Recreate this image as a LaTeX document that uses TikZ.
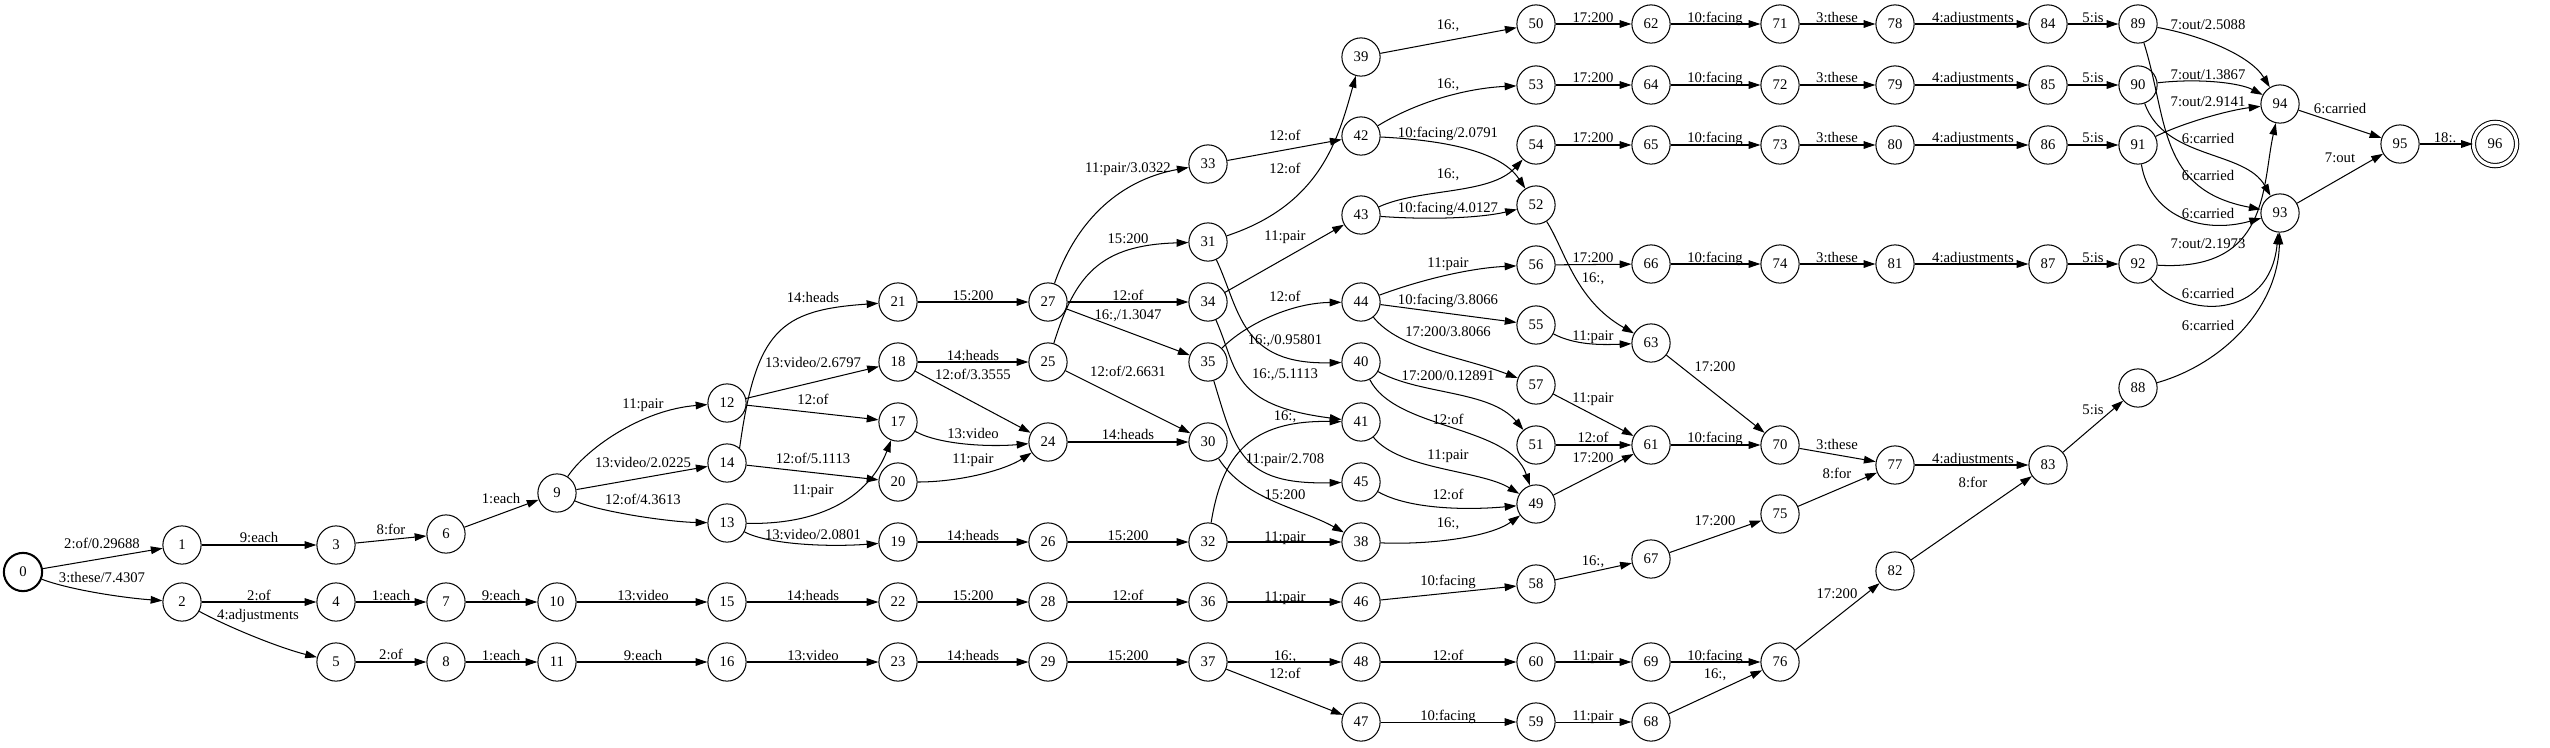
\documentclass[tikz,border=0pt]{standalone}
\usepackage{fontspec}
\setmainfont{Liberation Serif}
\usetikzlibrary{arrows.meta}

\begin{document}
\begin{tikzpicture}[x=0.68pt, y=-0.68pt, line width=0.7pt, >={Triangle[length=8pt, width=5.2pt]}]
  \tikzstyle{state} = [draw, circle, minimum size=26pt, inner sep=0pt]
  \tikzstyle{lbl} = [inner sep=0pt, text height=7pt, text depth=0pt]
  \useasboundingbox (0,0) rectangle (2550,747);

  \node[state, line width=1.4pt] (q0) at (23,572) {0};
  \node[state] (q1) at (182,545) {1};
  \node[state] (q2) at (182,602) {2};
  \node[state] (q3) at (336,545) {3};
  \node[state] (q4) at (336,602) {4};
  \node[state] (q5) at (336,662) {5};
  \node[state] (q6) at (446,534) {6};
  \node[state] (q7) at (446,602) {7};
  \node[state] (q8) at (446,662) {8};
  \node[state] (q9) at (557,493) {9};
  \node[state] (q10) at (557,602) {10};
  \node[state] (q11) at (557,662) {11};
  \node[state] (q12) at (727,403) {12};
  \node[state] (q13) at (727,523) {13};
  \node[state] (q14) at (727,463) {14};
  \node[state] (q15) at (727,602) {15};
  \node[state] (q16) at (727,662) {16};
  \node[state] (q17) at (898,422) {17};
  \node[state] (q18) at (898,362) {18};
  \node[state] (q19) at (898,542) {19};
  \node[state] (q20) at (898,482) {20};
  \node[state] (q21) at (898,302) {21};
  \node[state] (q22) at (898,602) {22};
  \node[state] (q23) at (898,662) {23};
  \node[state] (q24) at (1048,442) {24};
  \node[state] (q25) at (1048,362) {25};
  \node[state] (q26) at (1048,542) {26};
  \node[state] (q27) at (1048,302) {27};
  \node[state] (q28) at (1048,602) {28};
  \node[state] (q29) at (1048,662) {29};
  \node[state] (q30) at (1208,442) {30};
  \node[state] (q31) at (1208,242) {31};
  \node[state] (q32) at (1208,542) {32};
  \node[state] (q33) at (1208,164) {33};
  \node[state] (q34) at (1208,302) {34};
  \node[state] (q35) at (1208,362) {35};
  \node[state] (q36) at (1208,602) {36};
  \node[state] (q37) at (1208,662) {37};
  \node[state] (q38) at (1361,542) {38};
  \node[state] (q39) at (1361,57) {39};
  \node[state] (q40) at (1361,362) {40};
  \node[state] (q41) at (1361,422) {41};
  \node[state] (q42) at (1361,136) {42};
  \node[state] (q43) at (1361,215) {43};
  \node[state] (q44) at (1361,302) {44};
  \node[state] (q45) at (1361,482) {45};
  \node[state] (q46) at (1361,602) {46};
  \node[state] (q47) at (1361,722) {47};
  \node[state] (q48) at (1361,662) {48};
  \node[state] (q49) at (1536,504) {49};
  \node[state] (q50) at (1536,24) {50};
  \node[state] (q51) at (1536,445) {51};
  \node[state] (q52) at (1536,205) {52};
  \node[state] (q53) at (1536,85) {53};
  \node[state] (q54) at (1536,145) {54};
  \node[state] (q55) at (1536,325) {55};
  \node[state] (q56) at (1536,265) {56};
  \node[state] (q57) at (1536,385) {57};
  \node[state] (q58) at (1536,584) {58};
  \node[state] (q59) at (1536,722) {59};
  \node[state] (q60) at (1536,662) {60};
  \node[state] (q61) at (1651,445) {61};
  \node[state] (q62) at (1651,24) {62};
  \node[state] (q63) at (1651,343) {63};
  \node[state] (q64) at (1651,85) {64};
  \node[state] (q65) at (1651,145) {65};
  \node[state] (q66) at (1651,264) {66};
  \node[state] (q67) at (1651,559) {67};
  \node[state] (q68) at (1651,722) {68};
  \node[state] (q69) at (1651,662) {69};
  \node[state] (q70) at (1780,445) {70};
  \node[state] (q71) at (1780,24) {71};
  \node[state] (q72) at (1780,85) {72};
  \node[state] (q73) at (1780,145) {73};
  \node[state] (q74) at (1780,264) {74};
  \node[state] (q75) at (1780,514) {75};
  \node[state] (q76) at (1780,662) {76};
  \node[state] (q77) at (1895,465) {77};
  \node[state] (q78) at (1895,24) {78};
  \node[state] (q79) at (1895,85) {79};
  \node[state] (q80) at (1895,145) {80};
  \node[state] (q81) at (1895,264) {81};
  \node[state] (q82) at (1895,571) {82};
  \node[state] (q83) at (2048,465) {83};
  \node[state] (q84) at (2048,24) {84};
  \node[state] (q85) at (2048,85) {85};
  \node[state] (q86) at (2048,145) {86};
  \node[state] (q87) at (2048,264) {87};
  \node[state] (q88) at (2138,388) {88};
  \node[state] (q89) at (2138,24) {89};
  \node[state] (q90) at (2138,85) {90};
  \node[state] (q91) at (2138,145) {91};
  \node[state] (q92) at (2138,264) {92};
  \node[state] (q93) at (2280,213) {93};
  \node[state] (q94) at (2280,104) {94};
  \node[state] (q95) at (2400,144) {95};
  \node[state, double, double distance=2.2pt, minimum size=29.4pt] (q96) at (2495,144) {96};

  \draw[->] (q0) -- (q1) node[lbl] at (102,543) {2:of/0.29688};
  \draw[->] (q0) .. controls (70,590) and (125,598) .. (q2) node[lbl] at (102,577) {3:these/7.4307};
  \draw[->] (q1) -- (q3) node[lbl] at (259,537) {9:each};
  \draw[->] (q3) -- (q6) node[lbl] at (391,529) {8:for};
  \draw[->] (q2) -- (q4) node[lbl] at (259,595) {2:of};
  \draw[->] (q2) .. controls (230,628) and (280,648) .. (q5) node[lbl] at (258,614) {4:adjustments};
  \draw[->] (q4) -- (q7) node[lbl] at (391,595) {1:each};
  \draw[->] (q5) -- (q8) node[lbl] at (391,654) {2:of};
  \draw[->] (q6) -- (q9) node[lbl] at (501,498) {1:each};
  \draw[->] (q7) -- (q10) node[lbl] at (501,595) {9:each};
  \draw[->] (q8) -- (q11) node[lbl] at (501,655) {1:each};
  \draw[->] (q9) .. controls (585,450) and (640,410) .. (q12) node[lbl] at (643,403) {11:pair};
  \draw[->] (q9) -- (q14) node[lbl] at (643,462) {13:video/2.0225};
  \draw[->] (q9) .. controls (600,512) and (670,522) .. (q13) node[lbl] at (643,499) {12:of/4.3613};
  \draw[->] (q10) -- (q15) node[lbl] at (643,595) {13:video};
  \draw[->] (q11) -- (q16) node[lbl] at (643,655) {9:each};
  \draw[->] (q14.50) .. controls (756,330) and (780,310) .. (q21) node[lbl] at (813,297) {14:heads};
  \draw[->] (q12) -- (q18) node[lbl] at (813,362) {13:video/2.6797};
  \draw[->] (q12) -- (q17) node[lbl] at (813,399) {12:of};
  \draw[->] (q14) -- (q20) node[lbl] at (813,458) {12:of/5.1113};
  \draw[->] (q13) .. controls (830,525) and (872,490) .. (q17) node[lbl] at (813,489) {11:pair};
  \draw[->] (q13) .. controls (770,545) and (830,547) .. (q19) node[lbl] at (813,534) {13:video/2.0801};
  \draw[->] (q15) -- (q22) node[lbl] at (813,595) {14:heads};
  \draw[->] (q16) -- (q23) node[lbl] at (813,655) {13:video};
  \draw[->] (q21) -- (q27) node[lbl] at (973,295) {15:200};
  \draw[->] (q18) -- (q25) node[lbl] at (973,355) {14:heads};
  \draw[->] (q18) -- (q24) node[lbl] at (973,374) {12:of/3.3555};
  \draw[->] (q17) .. controls (940,445) and (990,447) .. (q24) node[lbl] at (973,433) {13:video};
  \draw[->] (q20) .. controls (960,482) and (1005,470) .. (q24) node[lbl] at (973,458) {11:pair};
  \draw[->] (q19) -- (q26) node[lbl] at (973,535) {14:heads};
  \draw[->] (q22) -- (q28) node[lbl] at (973,595) {15:200};
  \draw[->] (q23) -- (q29) node[lbl] at (973,655) {14:heads};
  \draw[->] (q27) .. controls (1080,210) and (1130,178) .. (q33) node[lbl] at (1128,167) {11:pair/3.0322};
  \draw[->] (q25) .. controls (1075,275) and (1100,245) .. (q31) node[lbl] at (1128,238) {15:200};
  \draw[->] (q27) -- (q34) node[lbl] at (1128,295) {12:of};
  \draw[->] (q27) -- (q35) node[lbl] at (1128,314) {16:,/1.3047};
  \draw[->] (q25) -- (q30) node[lbl] at (1128,371) {12:of/2.6631};
  \draw[->] (q24) -- (q30) node[lbl] at (1128,434) {14:heads};
  \draw[->] (q26) -- (q32) node[lbl] at (1128,535) {15:200};
  \draw[->] (q28) -- (q36) node[lbl] at (1128,595) {12:of};
  \draw[->] (q29) -- (q37) node[lbl] at (1128,655) {15:200};
  \draw[->] (q33) -- (q42) node[lbl] at (1285,135) {12:of};
  \draw[->] (q31) .. controls (1320,205) and (1338,140) .. (q39) node[lbl] at (1285,168) {12:of};
  \draw[->] (q34) -- (q43) node[lbl] at (1285,235) {11:pair};
  \draw[->] (q35) .. controls (1245,325) and (1290,303) .. (q44) node[lbl] at (1285,296) {12:of};
  \draw[->] (q31) .. controls (1240,310) and (1240,365) .. (q40) node[lbl] at (1285,339) {16:,/0.95801};
  \draw[->] (q34) .. controls (1238,370) and (1230,405) .. (q41) node[lbl] at (1285,373) {16:,/5.1113};
  \draw[->] (q32) .. controls (1222,455) and (1250,420) .. (q41) node[lbl] at (1285,415) {16:,};
  \draw[->] (q35) .. controls (1235,450) and (1240,485) .. (q45) node[lbl] at (1285,458) {11:pair/2.708};
  \draw[->] (q30) .. controls (1245,500) and (1300,508) .. (q38) node[lbl] at (1285,494) {15:200};
  \draw[->] (q32) -- (q38) node[lbl] at (1285,536) {11:pair};
  \draw[->] (q36) -- (q46) node[lbl] at (1285,596) {11:pair};
  \draw[->] (q37) -- (q48) node[lbl] at (1285,655) {16:,};
  \draw[->] (q37) -- (q47) node[lbl] at (1285,673) {12:of};
  \draw[->] (q39) -- (q50) node[lbl] at (1448,24) {16:,};
  \draw[->] (q42) .. controls (1420,100) and (1470,88) .. (q53) node[lbl] at (1448,83) {16:,};
  \draw[->] (q42) .. controls (1440,140) and (1500,150) .. (q52) node[lbl] at (1448,132) {10:facing/2.0791};
  \draw[->] (q43) .. controls (1420,188) and (1490,195) .. (q54) node[lbl] at (1448,173) {16:,};
  \draw[->] (q43) .. controls (1430,220) and (1480,218) .. (q52) node[lbl] at (1448,207) {10:facing/4.0127};
  \draw[->] (q44) .. controls (1420,280) and (1470,268) .. (q56) node[lbl] at (1448,262) {11:pair};
  \draw[->] (q44) -- (q55) node[lbl] at (1448,299) {10:facing/3.8066};
  \draw[->] (q44) .. controls (1400,350) and (1460,356) .. (q57) node[lbl] at (1448,331) {17:200/3.8066};
  \draw[->] (q40) .. controls (1420,395) and (1490,390) .. (q51) node[lbl] at (1448,375) {17:200/0.12891};
  \draw[->] (q40) .. controls (1395,430) and (1510,425) .. (q49) node[lbl] at (1448,419) {12:of};
  \draw[->] (q41) .. controls (1400,470) and (1480,470) .. (q49) node[lbl] at (1448,454) {11:pair};
  \draw[->] (q45) .. controls (1410,510) and (1470,510) .. (q49) node[lbl] at (1448,494) {12:of};
  \draw[->] (q38) .. controls (1430,545) and (1490,537) .. (q49) node[lbl] at (1448,522) {16:,};
  \draw[->] (q46) -- (q58) node[lbl] at (1448,580) {10:facing};
  \draw[->] (q48) -- (q60) node[lbl] at (1448,655) {12:of};
  \draw[->] (q47) -- (q59) node[lbl] at (1448,715) {10:facing};
  \draw[->] (q50) -- (q62) node[lbl] at (1593,17) {17:200};
  \draw[->] (q53) -- (q64) node[lbl] at (1593,77) {17:200};
  \draw[->] (q54) -- (q65) node[lbl] at (1593,137) {17:200};
  \draw[->] (q56) -- (q66) node[lbl] at (1593,257) {17:200};
  \draw[->] (q52) .. controls (1565,250) and (1575,300) .. (q63) node[lbl] at (1593,277) {16:,};
  \draw[->] (q55) .. controls (1575,345) and (1600,345) .. (q63) node[lbl] at (1593,335) {11:pair};
  \draw[->] (q57) -- (q61) node[lbl] at (1593,397) {11:pair};
  \draw[->] (q51) -- (q61) node[lbl] at (1593,437) {12:of};
  \draw[->] (q49) -- (q61) node[lbl] at (1593,457) {17:200};
  \draw[->] (q58) -- (q67) node[lbl] at (1593,560) {16:,};
  \draw[->] (q60) -- (q69) node[lbl] at (1593,655) {11:pair};
  \draw[->] (q59) -- (q68) node[lbl] at (1593,715) {11:pair};
  \draw[->] (q62) -- (q71) node[lbl] at (1715,17) {10:facing};
  \draw[->] (q71) -- (q78) node[lbl] at (1837,17) {3:these};
  \draw[->] (q78) -- (q84) node[lbl] at (1973,17) {4:adjustments};
  \draw[->] (q84) -- (q89) node[lbl] at (2093,17) {5:is};
  \draw[->] (q64) -- (q72) node[lbl] at (1715,77) {10:facing};
  \draw[->] (q72) -- (q79) node[lbl] at (1837,77) {3:these};
  \draw[->] (q79) -- (q85) node[lbl] at (1973,77) {4:adjustments};
  \draw[->] (q85) -- (q90) node[lbl] at (2093,77) {5:is};
  \draw[->] (q65) -- (q73) node[lbl] at (1715,137) {10:facing};
  \draw[->] (q73) -- (q80) node[lbl] at (1837,137) {3:these};
  \draw[->] (q80) -- (q86) node[lbl] at (1973,137) {4:adjustments};
  \draw[->] (q86) -- (q91) node[lbl] at (2093,137) {5:is};
  \draw[->] (q66) -- (q74) node[lbl] at (1715,257) {10:facing};
  \draw[->] (q74) -- (q81) node[lbl] at (1837,257) {3:these};
  \draw[->] (q81) -- (q87) node[lbl] at (1973,257) {4:adjustments};
  \draw[->] (q87) -- (q92) node[lbl] at (2093,257) {5:is};
  \draw[->] (q63) -- (q70) node[lbl] at (1715,366) {17:200};
  \draw[->] (q61) -- (q70) node[lbl] at (1715,437) {10:facing};
  \draw[->] (q70) -- (q77) node[lbl] at (1837,444) {3:these};
  \draw[->] (q67) -- (q75) node[lbl] at (1715,520) {17:200};
  \draw[->] (q75) -- (q77) node[lbl] at (1837,473) {8:for};
  \draw[->] (q69) -- (q76) node[lbl] at (1715,655) {10:facing};
  \draw[->] (q68) -- (q76) node[lbl] at (1715,673) {16:,};
  \draw[->] (q76) -- (q82) node[lbl] at (1837,593) {17:200};
  \draw[->] (q77) -- (q83) node[lbl] at (1973,458) {4:adjustments};
  \draw[->] (q82) -- (q83) node[lbl] at (1973,482) {8:for};
  \draw[->] (q83) -- (q88) node[lbl] at (2093,409) {5:is};
  \draw[->] (q89) .. controls (2200,35) and (2250,55) .. (q94) node[lbl] at (2208,24) {7:out/2.5088};
  \draw[->] (q90) .. controls (2200,78) and (2240,83) .. (q94) node[lbl] at (2208,74) {7:out/1.3867};
  \draw[->] (q91) .. controls (2185,122) and (2230,110) .. (q94) node[lbl] at (2208,101) {7:out/2.9141};
  \draw[->] (q90) .. controls (2165,160) and (2245,150) .. (q93) node[lbl] at (2208,138) {6:carried};
  \draw[->] (q89) .. controls (2168,120) and (2158,190) .. (q93) node[lbl] at (2208,175) {6:carried};
  \draw[->] (q91) .. controls (2150,215) and (2200,235) .. (q93) node[lbl] at (2208,213) {6:carried};
  \draw[->] (q92) .. controls (2270,272) and (2262,185) .. (q94) node[lbl] at (2208,243) {7:out/2.1973};
  \draw[->] (q92) .. controls (2185,320) and (2270,320) .. (q93) node[lbl] at (2208,293) {6:carried};
  \draw[->] (q88) .. controls (2220,365) and (2278,310) .. (q93) node[lbl] at (2208,325) {6:carried};
  \draw[->] (q94) -- (q95) node[lbl] at (2340,108) {6:carried};
  \draw[->] (q93) -- (q95) node[lbl] at (2340,157) {7:out};
  \draw[->] (q95) -- (q96) node[lbl] at (2445,137) {18:.};
\end{tikzpicture}
\end{document}
